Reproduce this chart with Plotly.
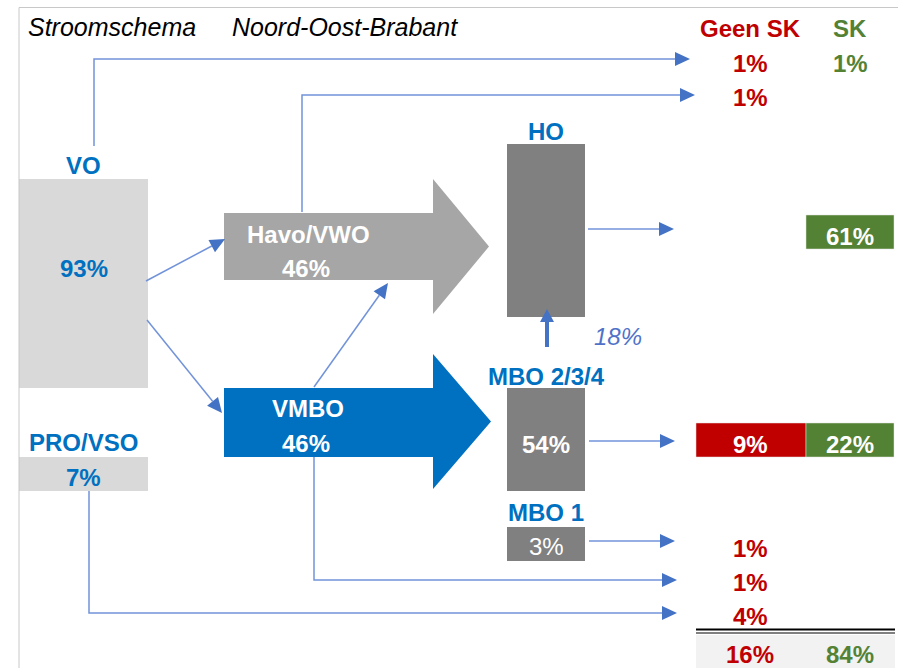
import math
import plotly.graph_objects as go

# ================== data ==================
TITLE_LEFT = "Stroomschema"
TITLE_RIGHT = "Noord-Oost-Brabant"
COL_HEADERS = ["Geen SK", "SK"]

NODE_NAMES = ["VO", "PRO/VSO", "Havo/VWO", "VMBO", "HO", "MBO 2/3/4", "MBO 1"]
NODE_PCT = [93, 7, 46, 46, None, 54, 3]
MBO_NAAR_HO = 18

# uitstroom per rij (van boven naar onder)
OUT_GEEN_SK = [1, 1, None, 9, 1, 1, 4]
OUT_SK = [1, None, 61, 22, None, None, None]
TOTAL_GEEN_SK = 16
TOTAL_SK = 84

# ================== stijl ==================
W, H = 898, 668
FONT = "Arial, 'Liberation Sans', sans-serif"
BLUE = "#0070C0"
RED = "#C00000"
GREEN = "#548235"
LINE = "#7293DA"
HEAD = "#4472C4"
FS = 24

# layout van de knopen: (x0, y0, x1, y1, kleur, label_y, pct_y, pct_kleur)
NODE_BOX = {
    "VO": (19, 179, 148, 388, "#D9D9D9", 165, 268, BLUE),
    "PRO/VSO": (19, 457, 148, 491, "#D9D9D9", 442, 477, BLUE),
    "HO": (507, 144, 585, 317, "#808080", 131, None, "white"),
    "MBO 2/3/4": (507, 388, 585, 491, "#808080", 376, 444, "white"),
    "MBO 1": (507, 527, 585, 561, "#808080", 512, 546, "white"),
}
# blokpijlen: (body x0, body y0, body y1, head x, head y0, head y1, tip x, kleur, label_y, pct_y)
BLOCK_ARROW = {
    "Havo/VWO": (224, 213, 280, 433, 179, 314, 489, "#A6A6A6", 234, 268),
    "VMBO": (224, 388, 457, 433, 354, 489, 491, BLUE, 408, 443),
}
ROW_Y = [63, 97, 236, 444, 548, 582, 616]
COL_X = [750, 850]
BOXED = [False, False, True, True, False, False, False]

fig = go.Figure()
fig.add_trace(go.Scatter(x=[20], y=[20], mode="markers", marker=dict(opacity=0),
                         showlegend=False, hoverinfo="skip"))

shapes = []
annotations = []


def txt(x, y, s, color, size=FS, bold=True, italic=False, xanchor="center"):
    if bold:
        s = f"<b>{s}</b>"
    if italic:
        s = f"<i>{s}</i>"
    annotations.append(dict(x=x, y=y, xref="x", yref="y", text=s, showarrow=False,
                            xanchor=xanchor, yanchor="middle",
                            font=dict(family=FONT, size=size, color=color)))


def arrow(points, lw=1.5, head_len=15, head_w=7, line_color=LINE):
    (px, py), (tx, ty) = points[-2], points[-1]
    dx, dy = tx - px, ty - py
    n = math.hypot(dx, dy)
    ux, uy = dx / n, dy / n
    bx, by = tx - ux * head_len, ty - uy * head_len
    pts = points[:-1] + [(bx, by)]
    path = "M " + " L ".join(f"{x:.1f},{y:.1f}" for x, y in pts)
    shapes.append(dict(type="path", path=path, line=dict(color=line_color, width=lw)))
    nx, ny = -uy, ux
    tri = (f"M {tx:.1f},{ty:.1f} L {bx + nx * head_w:.1f},{by + ny * head_w:.1f} "
           f"L {bx - nx * head_w:.1f},{by - ny * head_w:.1f} Z")
    shapes.append(dict(type="path", path=tri, fillcolor=HEAD, line=dict(width=0)))


# kader
shapes.append(dict(type="line", x0=19, x1=W, y0=7.5, y1=7.5, line=dict(color="#C8C8C8", width=1)))
shapes.append(dict(type="line", x0=19, x1=19, y0=7.5, y1=H, line=dict(color="#C8C8C8", width=1)))

# titels
txt(26, 27, TITLE_LEFT, "black", size=25, bold=False, italic=True, xanchor="left")
txt(230, 27, TITLE_RIGHT, "black", size=25, bold=False, italic=True, xanchor="left")
txt(COL_X[0], 28, COL_HEADERS[0], RED)
txt(COL_X[1], 28, COL_HEADERS[1], GREEN)

# knopen
for name, pct in zip(NODE_NAMES, NODE_PCT):
    if name in NODE_BOX:
        x0, y0, x1, y1, col, ly, py, pc = NODE_BOX[name]
        shapes.append(dict(type="rect", x0=x0, x1=x1, y0=y0, y1=y1, fillcolor=col,
                           line=dict(width=0), layer="below"))
        txt((x0 + x1) / 2, ly, name, BLUE)
        if pct is not None:
            txt((x0 + x1) / 2, py, f"{pct}%", pc, bold=(name != "MBO 1"))
    else:
        bx0, by0, by1, hx, hy0, hy1, tipx, col, ly, py = BLOCK_ARROW[name]
        tipy = (hy0 + hy1) / 2
        path = (f"M {bx0},{by0} L {hx},{by0} L {hx},{hy0} L {tipx},{tipy} "
                f"L {hx},{hy1} L {hx},{by1} L {bx0},{by1} Z")
        shapes.append(dict(type="path", path=path, fillcolor=col, line=dict(width=0),
                           layer="below"))
        txt(308, ly, name, "white")
        txt(306, py, f"{pct}%", "white")

# verbindingspijlen
arrow([(146, 281), (225, 239)])
arrow([(147, 320), (222, 413)])
arrow([(314, 387), (388, 283)])
arrow([(94, 146), (94, 59), (690, 59)])
arrow([(302, 212), (302, 95), (695, 95)])
arrow([(588, 229), (674, 229)])
arrow([(589, 441), (675, 441)])
arrow([(589, 541), (675, 541)])
arrow([(314, 457), (314, 580), (677, 580)])
arrow([(89, 491), (89, 613), (677, 613)])
arrow([(547, 347), (547, 309)], lw=4, head_len=13, head_w=7, line_color=HEAD)
txt(618, 336, f"{MBO_NAAR_HO}%", "#4F72C8", bold=False, italic=True)

# uitstroom
for i, y in enumerate(ROW_Y):
    for j, vals in enumerate((OUT_GEEN_SK, OUT_SK)):
        v = vals[i]
        if v is None:
            continue
        if BOXED[i]:
            x0 = 696 if j == 0 else 806
            x1 = 806 if j == 0 else 894
            shapes.append(dict(type="rect", x0=x0, x1=x1, y0=y - 21, y1=y + 13,
                               fillcolor=RED if j == 0 else GREEN,
                               line=dict(color="#E0E0E0", width=0.5), layer="below"))
            txt(COL_X[j], y, f"{v}%", "white")
        else:
            txt(COL_X[j], y, f"{v}%", RED if j == 0 else GREEN)

# totaal
shapes.append(dict(type="line", x0=696, x1=895, y0=629.5, y1=629.5,
                   line=dict(color="black", width=2)))
shapes.append(dict(type="line", x0=696, x1=895, y0=633, y1=633,
                   line=dict(color="black", width=1)))
shapes.append(dict(type="rect", x0=696, x1=895, y0=635, y1=H, fillcolor="#F2F2F2",
                   line=dict(width=0), layer="below"))
txt(COL_X[0], 654, f"{TOTAL_GEEN_SK}%", RED)
txt(COL_X[1], 654, f"{TOTAL_SK}%", GREEN)

fig.update_layout(
    width=W, height=H,
    margin=dict(l=0, r=0, t=0, b=0),
    paper_bgcolor="white", plot_bgcolor="white",
    xaxis=dict(range=[0, W], visible=False, fixedrange=True),
    yaxis=dict(range=[H, 0], visible=False, fixedrange=True),
    shapes=shapes, annotations=annotations,
    showlegend=False,
)

# body-marge weg zodat de figuur precies in het venster past
fig.write_html("out.html", config={"displayModeBar": False},
               post_script="document.body.style.margin='0px';"
                           "document.documentElement.style.overflow='hidden';")
